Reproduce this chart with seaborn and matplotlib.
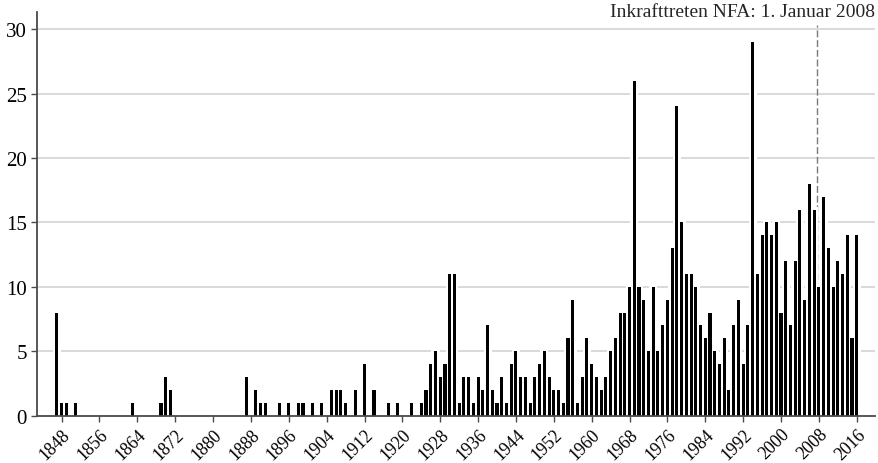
import pandas as pd
import seaborn as sns
import matplotlib.pyplot as plt

# Years with at least one entry and the counts
years = [1847, 1848, 1849, 1851, 1863, 1869, 1870, 1871,
         1887, 1889, 1890, 1891, 1894, 1896, 1898, 1899, 1901, 1903,
         1905, 1906, 1907, 1908, 1910, 1912, 1914, 1917, 1919, 1922,
         1924, 1925, 1926, 1927, 1928, 1929, 1930, 1931] + list(range(1932, 2017))
counts = [8, 1, 1, 1, 1, 1, 3, 2,
          3, 2, 1, 1, 1, 1, 1, 1, 1, 1,
          2, 2, 2, 1, 2, 4, 2, 1, 1, 1,
          1, 2, 4, 5, 3, 4, 11, 11,
          # 1932 - 2016
          1, 3, 3, 1, 3, 2, 7, 2, 1, 3,
          1, 4, 5, 3, 3, 1, 3, 4, 5, 3,
          2, 2, 1, 6, 9, 1, 3, 6, 4, 3,
          2, 3, 5, 6, 8, 8, 10, 26, 10, 9,
          5, 10, 5, 7, 9, 13, 24, 15, 11, 11,
          10, 7, 6, 8, 5, 4, 6, 2, 7, 9,
          4, 7, 29, 11, 14, 15, 14, 15, 8, 12,
          7, 12, 16, 9, 18, 16, 10, 17, 13, 10,
          12, 11, 14, 6, 14]
tick_years = list(range(1848, 2017, 8))
y_ticks = [0, 5, 10, 15, 20, 25, 30]
nfa_year = 2008
nfa_label = 'Inkrafttreten NFA: 1. Januar 2008'

df = pd.DataFrame({'jahr': years, 'anzahl': counts})

sns.set_style('white')
plt.rcParams['font.family'] = ['Liberation Serif', 'DejaVu Serif']

fig = plt.figure(figsize=(8.79, 4.64), dpi=100)
ax = fig.add_axes([0.0424, 0.102, 0.953, 0.869])

# grid lines behind everything
for v in y_ticks[1:]:
    ax.axhline(v, color='#cfcfcf', lw=1.1, zorder=0)
ax.vlines(nfa_year - 0.5, 0, 30.3, colors='#7a7a7a', linestyles=(0, (5, 2)), lw=1, zorder=0.5)

# white halo around the bars, cuts the grid lines
halo = df.assign(anzahl=df['anzahl'] + 0.2)
sns.barplot(data=halo, x='jahr', y='anzahl', native_scale=True, width=1.7, color='white',
            saturation=1, errorbar=None, linewidth=0, ax=ax, zorder=1)
sns.barplot(data=df, x='jahr', y='anzahl', native_scale=True, width=0.65, color='black',
            saturation=1, errorbar=None, linewidth=0, ax=ax, zorder=2)

ax.set_xlim(1842.86, 2019.85)
ax.set_ylim(0, 31.3)
ax.set_xlabel('')
ax.set_ylabel('')

ax.set_yticks(y_ticks)
ax.set_yticklabels(y_ticks, fontsize=15)
ax.set_xticks(tick_years)
ax.set_xticklabels(tick_years, rotation=45, ha='right', rotation_mode='anchor', fontsize=12.8)

for s in ['top', 'right']:
    ax.spines[s].set_visible(False)
for s in ['left', 'bottom']:
    ax.spines[s].set_color('#4a4a4a')
    ax.spines[s].set_linewidth(1.3)
ax.tick_params(axis='both', direction='out', length=4, width=1, color='#4a4a4a',
               bottom=True, left=True, labelcolor='black')
ax.tick_params(axis='x', pad=3)

ax.text(1.0, 0.9916, nfa_label, transform=ax.transAxes, ha='right', va='baseline', fontsize=14)

fig.savefig('out.png', dpi=100)
